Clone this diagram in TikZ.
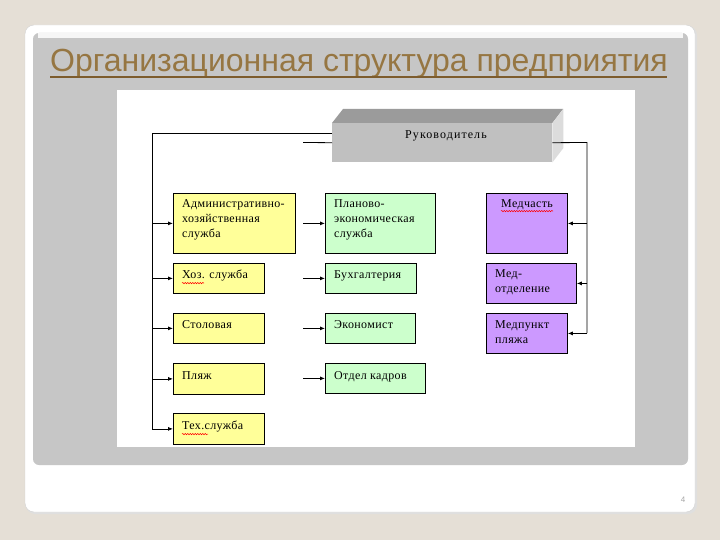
\documentclass[tikz,border=0pt]{standalone}
\usepackage{fontspec}
\setmainfont{Liberation Serif}
\newfontfamily\titlefont{Liberation Sans}
\newfontfamily\boxfont[LetterSpace=3]{Liberation Serif}
\newfontfamily\bossfont[LetterSpace=9]{Liberation Serif}
\usetikzlibrary{arrows.meta,decorations.pathmorphing,calc}
\definecolor{bgbeige}{RGB}{229,223,214}
\definecolor{panelgrey}{RGB}{198,198,198}
\definecolor{titlebrown}{RGB}{150,118,66}
\definecolor{ulbrown}{RGB}{125,92,45}
\definecolor{yfill}{RGB}{255,255,153}
\definecolor{gfill}{RGB}{204,255,204}
\definecolor{pfill}{RGB}{204,153,255}
\definecolor{topface}{RGB}{155,155,155}
\definecolor{frontface}{RGB}{192,192,192}
\definecolor{sideface}{RGB}{220,220,220}
\tikzset{
  box/.style={draw=black, line width=0.8pt, anchor=north west, inner sep=0pt},
  ybox/.style={box, fill=yfill},
  gbox/.style={box, fill=gfill},
  pbox/.style={box, fill=pfill},
  txt/.style={anchor=north west, align=left, inner sep=0pt, font=\boxfont\fontsize{12}{15}\selectfont},
  conn/.style={draw=black, line width=0.8pt},
  arr/.style={conn, -{Latex[length=5pt,width=4pt]}},
  squig/.style={draw=red, line width=0.5pt, decorate, decoration={snake, amplitude=0.7pt, segment length=2.5pt}}
}
\begin{document}
\begin{tikzpicture}[x=1pt,y=-1pt]
\useasboundingbox (0,0) rectangle (720,540);
\fill[bgbeige] (0,0) rectangle (720,540);
% outer white panel
\fill[gray!25, rounded corners=9pt] (26,26) rectangle (697,514);
\fill[white, draw=gray!35, rounded corners=9pt] (25,25) rectangle (695,512);
% grey panel
\fill[panelgrey, rounded corners=6pt] (33,33) rectangle (688,465);
\fill[white!85!panelgrey] (38,33.5) rectangle (683,38);
% title
\node[anchor=base west, inner sep=0pt, text=titlebrown, font=\titlefont\fontsize{32}{38}\selectfont] (title) at (50,72) {Организационная структура предприятия};
\draw[ulbrown, line width=2.5pt] (50,77) -- (667,77);
% white picture area
\fill[white] (117,90) rectangle (635,447);
% boss 3D box
\node[anchor=north west, fill=frontface, minimum width=220pt, minimum height=39pt, inner sep=0pt] (boss) at (332,123) {};
\fill[topface] (boss.north west) -- ++(11,-14) -- ++(220,0) -- (boss.north east) -- cycle;
\fill[sideface] (boss.north east) -- ++(11,-14) -- ++(0,39) -- (boss.south east) -- cycle;
\node[font=\bossfont\fontsize{12}{14}\selectfont, inner sep=0pt] (bosstext) at (446,136) {Руководитель};
% yellow column
\node[ybox, minimum width=122pt, minimum height=60pt] (adm) at (173,193) {};
\node[ybox, minimum width=91pt, minimum height=30pt] (hoz) at (173,263) {};
\node[ybox, minimum width=91pt, minimum height=30pt] (stol) at (173,313) {};
\node[ybox, minimum width=91pt, minimum height=31pt] (plyazh) at (173,363) {};
\node[ybox, minimum width=91pt, minimum height=31pt] (tech) at (173,413) {};
% green column
\node[gbox, minimum width=110pt, minimum height=60pt] (plan) at (325,193) {};
\node[gbox, minimum width=91pt, minimum height=30pt] (buh) at (325,263) {};
\node[gbox, minimum width=90pt, minimum height=30pt] (econ) at (325,313) {};
\node[gbox, minimum width=100pt, minimum height=30pt] (kadr) at (325,363) {};
% purple column
\node[pbox, minimum width=81pt, minimum height=60pt] (medch) at (486,193) {};
\node[pbox, minimum width=90pt, minimum height=40pt] (medotd) at (486,263) {};
\node[pbox, minimum width=81pt, minimum height=40pt] (medp) at (486,313) {};
% texts
\node[txt] (t1) at ($(adm.north west)+(9,6)$) {Административно-\\хозяйственная\\служба};
\node[txt] (t2) at ($(hoz.north west)+(9,7)$) {Хоз. служба};
\node[txt] (t3) at ($(stol.north west)+(9,7)$) {Столовая};
\node[txt] (t4) at ($(plyazh.north west)+(9,8)$) {Пляж};
\node[txt] (t5) at ($(tech.north west)+(9,8)$) {Тех.служба};
\node[txt] (t6) at ($(plan.north west)+(9,6)$) {Планово-\\экономическая\\служба};
\node[txt] (t7) at ($(buh.north west)+(9,7)$) {Бухгалтерия};
\node[txt] (t8) at ($(econ.north west)+(9,7)$) {Экономист};
\node[txt] (t9) at ($(kadr.north west)+(9,8)$) {Отдел кадров};
\node[txt] (t10) at ($(medch.north west)+(15,6)$) {Медчасть};
\node[txt] (t11) at ($(medotd.north west)+(9,6)$) {Мед-\\отделение};
\node[txt] (t12) at ($(medp.north west)+(9,7)$) {Медпункт\\пляжа};
% spell-check squiggles
\draw[squig] ($(t10.south west)+(0,1.5)$) -- ($(t10.south east)+(0,1.5)$);
\draw[squig] ($(t2.south west)+(0,1.5)$) -- ($(t2.south west)+(22,1.5)$);
\draw[squig] ($(t5.south west)+(0,1.5)$) -- ($(t5.south west)+(26,1.5)$);
% left trunk
\coordinate (L) at (152,133);
\draw[conn] (boss.west |- L) -- (L) -- (L |- tech.west);
\foreach \b in {adm,hoz,stol,plyazh,tech}{
  \draw[arr] (L |- \b.west) -- (\b.west);
}
% green stubs
\coordinate (G) at (303,142.5);
\draw[conn] (G) -- (boss.west);
\foreach \b in {plan,buh,econ,kadr}{
  \draw[arr] (G |- \b.west) -- (\b.west);
}
% right trunk
\coordinate (R) at (587,142.5);
\coordinate (Rb) at (587,333);
\draw[conn] (boss.east) -- (R) -- (Rb);
\foreach \b in {medch,medotd,medp}{
  \draw[arr] (R |- \b.east) -- (\b.east);
}
% page number
\node[text=gray!70, font=\titlefont\fontsize{8}{10}\selectfont] (pnum) at (683,500) {4};
\end{tikzpicture}
\end{document}
